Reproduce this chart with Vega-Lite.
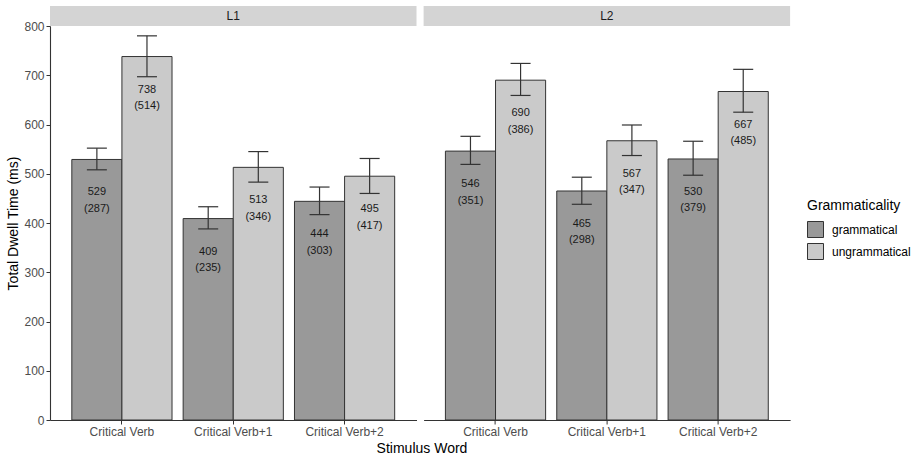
{
  "$schema": "https://vega.github.io/schema/vega-lite/v6.json",
  "padding": {"left": 6, "top": 6, "right": 5, "bottom": 5},
  "data": {"values": [
    {"panel": "L1", "word": "Critical Verb", "gram": "grammatical", "mean": 529, "sd": 287, "lo": 508, "hi": 552},
    {"panel": "L1", "word": "Critical Verb", "gram": "ungrammatical", "mean": 738, "sd": 514, "lo": 697, "hi": 780},
    {"panel": "L1", "word": "Critical Verb+1", "gram": "grammatical", "mean": 409, "sd": 235, "lo": 388, "hi": 433},
    {"panel": "L1", "word": "Critical Verb+1", "gram": "ungrammatical", "mean": 513, "sd": 346, "lo": 483, "hi": 545},
    {"panel": "L1", "word": "Critical Verb+2", "gram": "grammatical", "mean": 444, "sd": 303, "lo": 417, "hi": 473},
    {"panel": "L1", "word": "Critical Verb+2", "gram": "ungrammatical", "mean": 495, "sd": 417, "lo": 460, "hi": 531},
    {"panel": "L2", "word": "Critical Verb", "gram": "grammatical", "mean": 546, "sd": 351, "lo": 519, "hi": 576},
    {"panel": "L2", "word": "Critical Verb", "gram": "ungrammatical", "mean": 690, "sd": 386, "lo": 659, "hi": 724},
    {"panel": "L2", "word": "Critical Verb+1", "gram": "grammatical", "mean": 465, "sd": 298, "lo": 438, "hi": 493},
    {"panel": "L2", "word": "Critical Verb+1", "gram": "ungrammatical", "mean": 567, "sd": 347, "lo": 537, "hi": 599},
    {"panel": "L2", "word": "Critical Verb+2", "gram": "grammatical", "mean": 530, "sd": 379, "lo": 497, "hi": 566},
    {"panel": "L2", "word": "Critical Verb+2", "gram": "ungrammatical", "mean": 667, "sd": 485, "lo": 625, "hi": 712}
  ]},
  "title": {"text": "Stimulus Word", "orient": "bottom", "anchor": "middle", "fontSize": 14, "fontWeight": "normal", "color": "#000000", "offset": 5, "dx": -37},
  "hconcat": [
    {
      "bounds": "flush",
      "vconcat": [
        {
          "data": {"values": [{"panel": "L1"}]},
          "width": 366.5, "height": 20,
          "view": {"fill": "#d4d4d4", "stroke": null},
          "mark": {"type": "text", "fontSize": 12, "color": "#1a1a1a", "baseline": "middle"},
          "encoding": {"text": {"field": "panel"}}
        },
        {
          "width": 366.5, "height": 394,
          "transform": [
            {"filter": "datum.panel == 'L1'"},
            {"calculate": "datum.mean + '\\n(' + datum.sd + ')'", "as": "label"}
          ],
          "encoding": {
            "x": {"field": "word", "type": "nominal", "sort": ["Critical Verb", "Critical Verb+1", "Critical Verb+2"], "title": null,
                  "scale": {"paddingInner": 0.1, "paddingOuter": 0.196}},
            "xOffset": {"field": "gram", "type": "nominal", "scale": {"paddingInner": 0, "paddingOuter": 0}}
          },
          "layer": [
            {
              "mark": {"type": "bar", "stroke": "#333333", "strokeWidth": 1},
              "encoding": {
                "y": {"field": "mean", "type": "quantitative", "scale": {"domain": [0, 800], "nice": false},
                      "axis": {"values": [0, 100, 200, 300, 400, 500, 600, 700, 800], "title": "Total Dwell Time (ms)"}},
                "color": {"field": "gram", "type": "nominal", "scale": {"domain": ["grammatical", "ungrammatical"], "range": ["#999999", "#cacaca"]},
                          "legend": {"title": "Grammaticality", "orient": "none", "legendX": 757, "legendY": 193}}
              }
            },
            {
              "mark": {"type": "rule", "color": "#333333", "strokeWidth": 1.2},
              "encoding": {"y": {"field": "lo", "type": "quantitative"}, "y2": {"field": "hi"}}
            },
            {
              "mark": {"type": "tick", "orient": "horizontal", "size": 20, "thickness": 1.2, "color": "#333333", "opacity": 1},
              "encoding": {"y": {"field": "lo", "type": "quantitative"}}
            },
            {
              "mark": {"type": "tick", "orient": "horizontal", "size": 20, "thickness": 1.2, "color": "#333333", "opacity": 1},
              "encoding": {"y": {"field": "hi", "type": "quantitative"}}
            },
            {
              "mark": {"type": "text", "baseline": "top", "dy": 27, "lineBreak": "\n", "lineHeight": 16.5, "fontSize": 11, "color": "#1a1a1a"},
              "encoding": {"y": {"field": "mean", "type": "quantitative"}, "text": {"field": "label"}}
            }
          ]
        }
      ],
      "spacing": 0
    },
    {
      "bounds": "flush",
      "vconcat": [
        {
          "data": {"values": [{"panel": "L2"}]},
          "width": 366.5, "height": 20,
          "view": {"fill": "#d4d4d4", "stroke": null},
          "mark": {"type": "text", "fontSize": 12, "color": "#1a1a1a", "baseline": "middle"},
          "encoding": {"text": {"field": "panel"}}
        },
        {
          "width": 366.5, "height": 394,
          "transform": [
            {"filter": "datum.panel == 'L2'"},
            {"calculate": "datum.mean + '\\n(' + datum.sd + ')'", "as": "label"}
          ],
          "encoding": {
            "x": {"field": "word", "type": "nominal", "sort": ["Critical Verb", "Critical Verb+1", "Critical Verb+2"], "title": null,
                  "scale": {"paddingInner": 0.1, "paddingOuter": 0.196}},
            "xOffset": {"field": "gram", "type": "nominal", "scale": {"paddingInner": 0, "paddingOuter": 0}}
          },
          "layer": [
            {
              "mark": {"type": "bar", "stroke": "#333333", "strokeWidth": 1},
              "encoding": {
                "y": {"field": "mean", "type": "quantitative", "scale": {"domain": [0, 800], "nice": false}, "axis": null},
                "color": {"field": "gram", "type": "nominal", "scale": {"domain": ["grammatical", "ungrammatical"], "range": ["#999999", "#cacaca"]}, "legend": null}
              }
            },
            {
              "mark": {"type": "rule", "color": "#333333", "strokeWidth": 1.2},
              "encoding": {"y": {"field": "lo", "type": "quantitative"}, "y2": {"field": "hi"}}
            },
            {
              "mark": {"type": "tick", "orient": "horizontal", "size": 20, "thickness": 1.2, "color": "#333333", "opacity": 1},
              "encoding": {"y": {"field": "lo", "type": "quantitative"}}
            },
            {
              "mark": {"type": "tick", "orient": "horizontal", "size": 20, "thickness": 1.2, "color": "#333333", "opacity": 1},
              "encoding": {"y": {"field": "hi", "type": "quantitative"}}
            },
            {
              "mark": {"type": "text", "baseline": "top", "dy": 27, "lineBreak": "\n", "lineHeight": 16.5, "fontSize": 11, "color": "#1a1a1a"},
              "encoding": {"y": {"field": "mean", "type": "quantitative"}, "text": {"field": "label"}}
            }
          ]
        }
      ],
      "spacing": 0
    }
  ],
  "spacing": 6.6,
  "resolve": {"scale": {"color": "shared"}},
  "config": {
    "font": "Liberation Sans",
    "view": {"stroke": null},
    "axis": {"grid": false, "domainColor": "#333333", "domainWidth": 1.1, "tickColor": "#333333", "tickSize": 4, "labelColor": "#4d4d4d", "labelFontSize": 12, "labelPadding": 2, "titleFontSize": 14, "titleFontWeight": "normal", "titleColor": "#000000", "titlePadding": 3},
    "axisX": {"labelAngle": 0},
    "legend": {"symbolType": "square", "symbolSize": 256, "symbolStrokeColor": "#333333", "symbolStrokeWidth": 1, "symbolOpacity": 1, "titleFontSize": 14, "titleFontWeight": "normal", "titleColor": "#000000", "labelFontSize": 12, "labelColor": "#000000", "rowPadding": 1, "titlePadding": 8, "labelOffset": 8}
  }
}
